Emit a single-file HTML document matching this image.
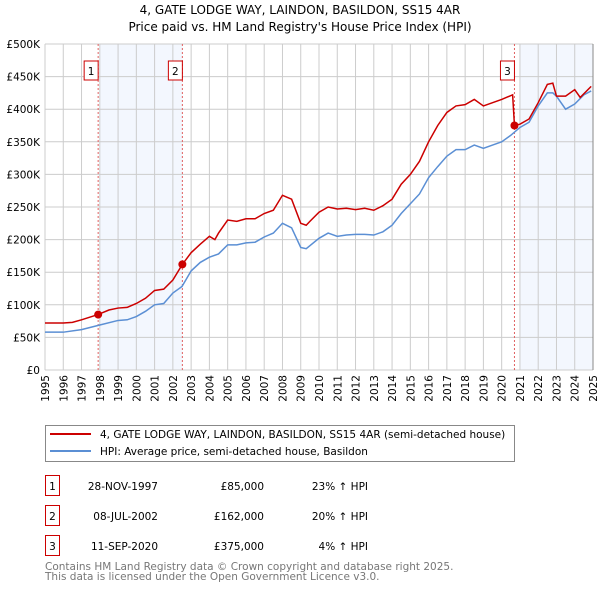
<!DOCTYPE html>
<html><head><meta charset="utf-8"><style>
body{margin:0;background:#fff;font-family:"DejaVu Sans","Liberation Sans",sans-serif;}
svg text{font-family:"DejaVu Sans","Liberation Sans",sans-serif;}
</style></head><body>
<svg id="chart" width="600" height="590" viewBox="0 0 600 590" xmlns="http://www.w3.org/2000/svg">
<text x="300" y="14" font-size="12" text-anchor="middle">4, GATE LODGE WAY, LAINDON, BASILDON, SS15 4AR</text>
<text x="300" y="31" font-size="12" text-anchor="middle">Price paid vs. HM Land Registry's House Price Index (HPI)</text>
<g id="plot"></g>
<g>
<rect x="45.5" y="425.5" width="469" height="36" fill="#fff" stroke="#888"/>
<line x1="50" y1="434" x2="91" y2="434" stroke="#cc0000" stroke-width="2"/>
<text x="100" y="438" font-size="10.5">4, GATE LODGE WAY, LAINDON, BASILDON, SS15 4AR (semi-detached house)</text>
<line x1="50" y1="451" x2="91" y2="451" stroke="#5b8fd4" stroke-width="2"/>
<text x="100" y="455" font-size="10.5">HPI: Average price, semi-detached house, Basildon</text>
</g>
<g font-size="10.5">
<rect x="45.5" y="475.5" width="14" height="20" fill="none" stroke="#cc0000"/><text x="52.5" y="490" text-anchor="middle">1</text>
<text x="158" y="490" text-anchor="end">28-NOV-1997</text><text x="264" y="490" text-anchor="end">£85,000</text><text x="368" y="490" text-anchor="end">23% ↑ HPI</text>
<rect x="45.5" y="505.5" width="14" height="20" fill="none" stroke="#cc0000"/><text x="52.5" y="520" text-anchor="middle">2</text>
<text x="158" y="520" text-anchor="end">08-JUL-2002</text><text x="264" y="520" text-anchor="end">£162,000</text><text x="368" y="520" text-anchor="end">20% ↑ HPI</text>
<rect x="45.5" y="535.5" width="14" height="20" fill="none" stroke="#cc0000"/><text x="52.5" y="550" text-anchor="middle">3</text>
<text x="158" y="550" text-anchor="end">11-SEP-2020</text><text x="264" y="550" text-anchor="end">£375,000</text><text x="368" y="550" text-anchor="end">4% ↑ HPI</text>
</g>
<text x="45" y="570" font-size="10.5" fill="#777">Contains HM Land Registry data © Crown copyright and database right 2025.</text>
<text x="45" y="580" font-size="10.5" fill="#777">This data is licensed under the Open Government Licence v3.0.</text>
</svg>
<script>
const yTicks=[0,50,100,150,200,250,300,350,400,450,500];
const yLabels=["£0","£50K","£100K","£150K","£200K","£250K","£300K","£350K","£400K","£450K","£500K"];
const years=[1995,1996,1997,1998,1999,2000,2001,2002,2003,2004,2005,2006,2007,2008,2009,2010,2011,2012,2013,2014,2015,2016,2017,2018,2019,2020,2021,2022,2023,2024,2025];
const propT=[1995,1996,1996.5,1997,1997.9,1998.5,1999,1999.5,2000,2000.5,2001,2001.5,2002,2002.52,2003,2003.5,2004,2004.3,2004.5,2005,2005.5,2006,2006.5,2007,2007.5,2008,2008.5,2009,2009.3,2009.5,2010,2010.5,2011,2011.5,2012,2012.5,2013,2013.5,2014,2014.5,2015,2015.5,2016,2016.5,2017,2017.5,2018,2018.5,2019,2019.5,2020,2020.6,2020.7,2021,2021.5,2022,2022.5,2022.8,2023,2023.5,2024,2024.3,2024.9];
const propV=[72,72,73,77,85,92,95,96,102,110,122,124,138,162,180,193,205,200,210,230,228,232,232,240,245,268,262,225,222,228,242,250,247,248,246,248,245,252,262,285,300,320,350,375,395,405,407,415,405,410,415,422,375,377,385,410,438,440,420,420,430,418,435];
const hpiT=[1995,1996,1997,1998,1999,1999.5,2000,2000.5,2001,2001.5,2002,2002.5,2003,2003.5,2004,2004.5,2005,2005.5,2006,2006.5,2007,2007.5,2008,2008.5,2009,2009.3,2010,2010.5,2011,2011.5,2012,2012.5,2013,2013.5,2014,2014.5,2015,2015.5,2016,2016.5,2017,2017.5,2018,2018.5,2019,2019.5,2020,2020.5,2021,2021.5,2022,2022.5,2022.8,2023,2023.5,2024,2024.5,2024.9];
const hpiV=[58,58,62,69,76,77,82,90,100,102,118,128,152,165,173,178,192,192,195,196,204,210,225,218,188,186,202,210,205,207,208,208,207,212,222,240,255,270,295,312,328,338,338,345,340,345,350,360,372,380,405,425,425,420,400,408,422,428];
const saleT=[1997.91,2002.52,2020.7];
const saleV=[85,162,375];
const saleN=["1","2","3"];
const shade=[[1998,2002.52],[2021,2025]];
const X0=45,X1=593,Y0=370,Y1=44;
const x=t=>X0+(t-1995)/30*(X1-X0);
const y=v=>Y0-v/500*(Y0-Y1);
const NS="http://www.w3.org/2000/svg";
const g=document.getElementById('plot');
function mk(tag,at,parent){const e=document.createElementNS(NS,tag);for(const k in at)e.setAttribute(k,at[k]);(parent||g).appendChild(e);return e;}
shade.forEach(s=>{const r=mk('rect',{x:x(s[0]),y:Y1,width:x(s[1])-x(s[0]),height:Y0-Y1,fill:'#f3f7fe'});

});
years.forEach(t=>{const l=mk('line',{x1:x(t),x2:x(t),y1:Y1,y2:Y0,stroke:'#cccccc'});


const tx=mk('text',{x:0,y:0,'font-size':10.5,'text-anchor':'end',transform:`translate(${x(t)+4},${Y0+5}) rotate(-90)`});
tx.textContent=t;

});
yTicks.forEach((v,i)=>{const l=mk('line',{x1:X0,x2:X1,y1:y(v),y2:y(v),stroke:'#cccccc'});


const tx=mk('text',{x:X0-5,y:y(v)+4,'font-size':10.5,'text-anchor':'end'});
tx.textContent=yLabels[i];

});
mk('line',{x1:X1,x2:X1,y1:Y1,y2:Y0,stroke:'#888'});
saleT.forEach(t=>{const l=mk('line',{x1:x(t),x2:x(t),y1:Y1,y2:Y0,stroke:'#e06060','stroke-dasharray':'2,2'});

});
const hp=mk('polyline',{points:hpiT.map((t,i)=>x(t)+','+y(hpiV[i])).join(' '),fill:'none',stroke:'#5b8fd4','stroke-width':1.5});


const pp=mk('polyline',{points:propT.map((t,i)=>x(t)+','+y(propV[i])).join(' '),fill:'none',stroke:'#cc0000','stroke-width':1.5});


saleT.forEach((t,i)=>{const c=mk('circle',{cx:x(t),cy:y(saleV[i]),r:4,fill:'#cc0000'});


const bx=x(t)-7;
const r=mk('rect',{x:bx-7,y:61,width:14,height:19,fill:'#fff',stroke:'#cc0000'});


const tx=mk('text',{x:bx,y:75,'font-size':10.5,'text-anchor':'middle'});
tx.textContent=saleN[i];

});
</script>
</body></html>
